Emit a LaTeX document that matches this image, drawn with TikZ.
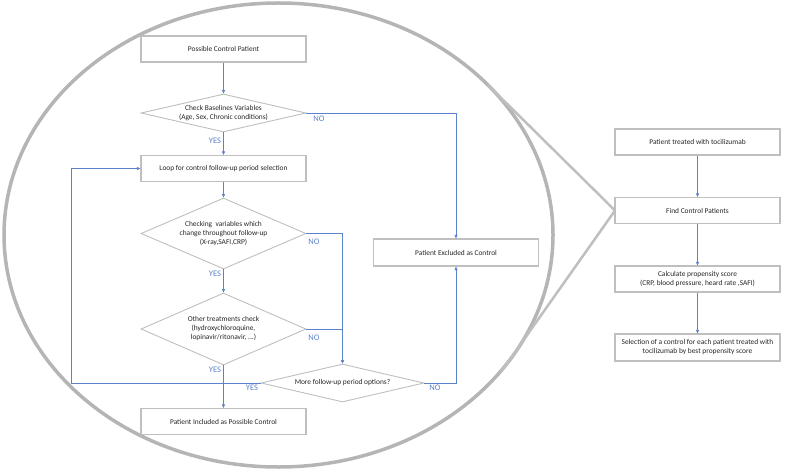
\documentclass[tikz,border=0pt]{standalone}
\usepackage{fontspec}
\setmainfont{Carlito}
\usetikzlibrary{shapes.geometric, arrows.meta, shadows}
\definecolor{flowblue}{HTML}{5B82CC}
\definecolor{framegray}{HTML}{BFBFBF}
\definecolor{lensgray}{HTML}{B5B5B5}

\begin{document}
\begin{tikzpicture}[x=1pt, y=-1pt, >={Triangle[length=3.5pt,width=3pt]},
    every node/.style={font=\fontsize{7.4}{9}\selectfont, text=black!85, align=center},
    box/.style={draw=framegray, line width=1.1pt, fill=white, minimum width=165pt, minimum height=26pt,
        drop shadow={shadow xshift=0.8pt, shadow yshift=-0.8pt, fill=black!30, opacity=0.4}},
    decision/.style={diamond, draw=framegray, line width=0.9pt, fill=white, inner sep=0pt},
    flow/.style={draw=flowblue, line width=0.6pt},
    yesno/.style={text=flowblue, font=\fontsize{8.5}{9}\selectfont}]
    \useasboundingbox (0,0) rectangle (789,473);
    \draw[lensgray, line width=3.5pt] (278.5,235) ellipse [x radius=274.5, y radius=232];
    \coordinate (z1) at (488,85);
    \coordinate (z2) at (501,372);
    \coordinate (back) at (71,383);

    \node[box] (start) at (223.5,49) {Possible Control Patient};
    \node[decision, minimum width=165pt, minimum height=38pt, aspect=4.3] (base) at (223.5,113) {Check Baselines Variables\\(Age, Sex, Chronic conditions)};
    \node[box] (loop) at (223.5,168.5) {Loop for control follow-up period selection};
    \node[decision, minimum width=165pt, minimum height=71pt, aspect=2.3] (vary) at (223.5,233.5) {Checking\ \ variables which\\change throughout follow-up\\(X-ray,SAFI,CRP)};
    \node[decision, minimum width=165pt, minimum height=72pt, aspect=2.3] (treat) at (223.5,329) {Other treatments check\\(hydroxychloroquine,\\lopinavir/ritonavir, ...)};
    \node[decision, minimum width=163pt, minimum height=38pt, aspect=4.3] (more) at (342.5,383) {More follow-up period options?};
    \node[box] (incl) at (223.5,421.5) {Patient Included as Possible Control};
    \node[box, minimum height=27pt] (excl) at (456,252.5) {Patient Excluded as Control};

    \draw[framegray, line width=2.5pt, line join=round] (z1) -- (615,210.5) -- (z2);
    \node[box] (treated) at (697.5,142) {Patient treated with tocilizumab};
    \node[box] (find) at (697.5,210.5) {Find Control Patients};
    \node[box] (calc) at (697.5,279) {Calculate propensity score\\(CRP, blood pressure, heard rate ,SAFI)};
    \node[box, minimum height=27pt] (pick) at (697.5,347.5) {Selection of a control for each patient treated with\\tocilizumab by best propensity score};

    \draw[flow, ->] (start) -- (base);
    \draw[flow, ->] (base) -- (loop);
    \draw[flow, ->] (loop) -- (vary);
    \draw[flow, ->] (vary) -- (treat);
    \draw[flow, ->] (treat) -- (incl);
    \draw[flow, ->] (base.east) -| (excl.north);
    \draw[flow, ->] (vary.east) -| (more.north);
    \draw[flow, ->] (treat.east) -| (more.north);
    \draw[flow, ->] (more.west) -- (back) |- (loop.west);
    \draw[flow, ->] (more.east) -| (excl.south);
    \draw[flow, ->] (treated) -- (find);
    \draw[flow, ->] (find) -- (calc);
    \draw[flow, ->] (calc) -- (pick);

    \node[yesno] (no1) at (319,119) {NO};
    \node[yesno] (yes1) at (215,141) {YES};
    \node[yesno] (no2) at (314,242) {NO};
    \node[yesno] (yes2) at (215,274) {YES};
    \node[yesno] (no3) at (314,338) {NO};
    \node[yesno] (yes3) at (215,370) {YES};
    \node[yesno] (yes4) at (252,388) {YES};
    \node[yesno] (no4) at (435,388) {NO};
\end{tikzpicture}
\end{document}
